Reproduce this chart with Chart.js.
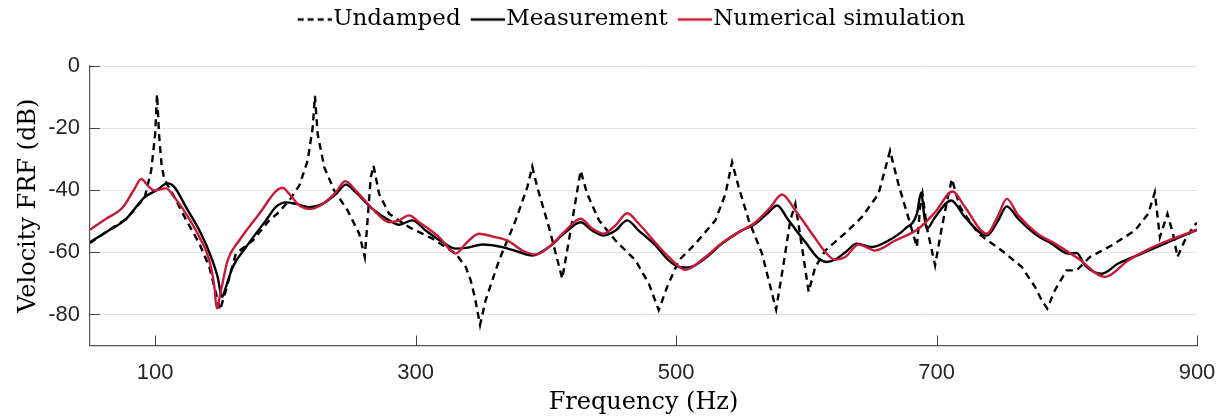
<!DOCTYPE html>
<html>
<head>
<meta charset="utf-8">
<script src="https://cdn.jsdelivr.net/npm/chart.js@4.4.1/dist/chart.umd.min.js"></script>
<style>
  html, body { margin: 0; padding: 0; background: #fff; }
  #wrap { width: 1231px; height: 419px; }
</style>
</head>
<body>
<div id="wrap"><canvas id="grafikas" width="1231" height="419"></canvas></div>
<script>
// duomenys nuskaityti nuo paveikslo (Hz, dB)
var xTicks = [100, 300, 500, 700, 900];
var yTicks = [-80, -60, -40, -20, 0];

var undampedHz = [50, 62, 78, 92, 97, 100, 101.5, 103, 105, 107, 113.5, 124, 134, 141.6, 146.8, 149.8, 154.4, 162, 175, 187.6, 194,
    203, 210.7, 217.1, 221, 222.7, 224.8, 229.9, 237.5, 247.8, 256.7, 261, 263.1, 265.6, 267.7, 272, 279.7, 295, 313, 330.8,
    338.5, 342.3, 345.5, 349.5, 353.8, 364.1, 376.8, 385.8, 389.6, 393.4, 402.4, 412.6, 417.7, 422.9, 426.7, 431.8, 440.8,
    453.5, 468.9, 479.1, 486.7, 493.2, 502.1, 514.9, 530.2, 537.9, 543, 548.1, 555.8, 566, 572.4, 576.8, 582.6, 587.7, 591.6,
    596.7, 601.8, 606.9, 614.6, 629.9, 642.6, 655.4, 664.3, 670.7, 678.3, 684.9, 687.4, 689.2, 692.5, 698.9, 704.1, 709.2,
    711.8, 718.1, 732.2, 750, 765.4, 775.6, 780.7, 785, 790.9, 799.9, 807.6, 817.8, 834.4, 852.3, 862.5, 867.6, 871.5, 877.3,
    881.6, 885, 890.6, 897.8, 900];
var undampedDb = [-57, -53.5, -49.2, -42.3, -33.7, -22, -9.1, -22, -32, -36.4, -41.2, -49.7, -57.2, -64.7, -73.3, -78.6, -72.2, -60.4, -56.2, -49.7, -47.5,
    -43.3, -38.5, -30.5, -19.8, -9.6, -21.9, -32.6, -40.1, -46.5, -54, -61.5, -49.7, -35.8, -32.1, -41.2, -47.6, -51.9, -55.6, -60.4,
    -64.7, -69, -74.5, -83.4, -75.4, -62.6, -49.7, -39, -32.4, -39, -51.9, -68.5, -56.2, -43.3, -33.7, -41.2, -49.7,
    -56.2, -62.6, -70.1, -78.6, -71.1, -62.6, -57.2, -49.7, -41.2, -31, -39, -49.7, -60.4, -71.1, -78.4, -63.6, -49.7, -44.4,
    -58.3, -72.7, -64.7, -59.4, -53.8, -48.7, -41.2, -27.3, -38, -48.7, -58.3, -45.5, -41.2, -51.9, -64.2, -51.9, -41.2,
    -36.4, -45.5, -54, -59.4, -64.7, -71.1, -75.4, -78.1, -72.2, -65.8, -65.8, -61.5, -57.8, -53, -47.6, -40.7, -55.1, -47.6,
    -54, -61.5, -56.2, -51.3, -50.5];

var measuredHz = [50, 62.4, 77.8, 91.8, 100.8, 109.7, 114.8, 123.8, 135.3, 143, 148, 151.4, 154.4, 159.6, 169.8, 185.1, 193, 200.5,
    208.1, 218.3, 228.6, 238.8, 246.5, 254.1, 266.9, 279.7, 287.3, 297.6, 307.8, 320.6, 330.8, 340, 351.3, 366.6, 379.4, 389.6,
    402.4, 415.2, 426.7, 435.7, 444.6, 453.5, 462.5, 471.4, 484.2, 494.4, 502.1, 509.7, 522.5, 535.3, 548.1, 560.9, 571.1, 577.5,
    586.4, 599.2, 609.4, 615.9, 623.5, 630, 638.9, 650.4, 663.1, 675.9, 684.9, 688.2, 690.7, 692.5, 698.9, 711.2, 721.9, 738.5,
    747.4, 753.9, 762.8, 777, 788.4, 801.2, 807.6, 814, 826.7, 839.5, 857.4, 877.8, 900];
var measuredDb = [-56.7, -53.5, -49.2, -42.3, -40.1, -37.8, -39, -45.5, -54, -61.5, -67.9, -74.4, -71.1, -64.7, -58.3, -49.7, -45.3, -43.9,
    -44.4, -45.5, -44.4, -41.2, -38.2, -40.7, -46, -49.7, -51.1, -49.7, -53, -56.7, -58.8, -58.5, -57.5, -58.3, -59.9, -61,
    -58.3, -53.5, -50.3, -53, -54.6, -53, -49.7, -53, -57.8, -62.6, -64.7, -64.9, -61.8, -57.2, -53.5, -50.8, -47.1, -44.9,
    -49.7, -56.7, -62, -63.1, -62, -60, -57.2, -58.3, -56.2, -52.4, -47.6, -40.7, -48.7, -52.4, -48.7, -43.3, -48.7, -54.6,
    -49.7, -45.2, -49.2, -54.5, -57.2, -60.4, -60.2, -64.2, -66.9, -63.6, -60.4, -56.7, -52.8];

var simHz = [50, 62.4, 75.2, 84.1, 89.3, 94.4, 99.5, 108.4, 114.8, 123.8, 134, 141.6, 145.5, 147.3, 150.6, 155.7, 164.6, 180, 192.8, 197.9,
    203, 210.7, 219.6, 228.6, 238.8, 245.9, 254.1, 266.9, 279.7, 287.3, 295, 302.7, 318, 330.8, 338.5, 348.7, 359, 370.5, 382,
    392.2, 402.4, 415.2, 426.7, 435.7, 444.6, 453.5, 462.5, 471.4, 484.2, 494.4, 507.2, 522.5, 535.3, 548.1, 560.9, 572.4, 581.3,
    591.6, 604.4, 614.6, 622.2, 629.9, 640.1, 652.9, 668.2, 686.1, 698.9, 712.4, 721.9, 738.5, 747.4, 753.9, 762.8, 777, 790.9,
    808.8, 829.3, 847.2, 865.2, 900];
var simDb = [-52.7, -49.2, -45.5, -39.6, -36.4, -38.5, -40.1, -39.4, -42.3, -47.6, -55.1, -62.6, -71.1, -78.1, -72.2, -62.6, -56.2, -47.6, -40.3, -39.2,
    -41.2, -44.9, -46, -44.4, -40.7, -37.1, -40.1, -46, -50.3, -49.7, -48.1, -50.3, -55.1, -60.4, -57.2, -54, -54.9, -56.2, -59.4,
    -60.7, -58.3, -53, -49.2, -52.4, -54, -51.3, -47.4, -50.8, -56.9, -61.5, -65.6, -61.5, -57, -53.5, -50.3, -45.5, -41.4,
    -46.5, -54, -59.9, -62.4, -61.5, -57.5, -59.4, -56.2, -52.4, -47.1, -40.4, -45.5, -54, -48.1, -42.8, -48.1, -53.8, -57.2,
    -62, -67.9, -62.6, -58.5, -52.7];

function taskai(xs, ys) {
    return xs.map((x, i) => ({x: x, y: ys[i]}));
}

// legendos linijos (punktyras turi matytis), pastumtos arčiau teksto
function legendosLinija(spalva, bruksnys) {
    var c = document.createElement('canvas');
    c.width = 54;
    c.height = 6;
    var g = c.getContext('2d');
    g.strokeStyle = spalva;
    g.lineWidth = 2.4;
    g.setLineDash(bruksnys);
    g.beginPath();
    g.moveTo(20, 3);
    g.lineTo(54, 3);
    g.stroke();
    return c;
}

// vidines ašių žymos (kaip MATLAB)
const vidinesZymos = {
    id: 'vidinesZymos',
    beforeInit(chart) {
        const lg = chart.legend;
        const origFit = lg.fit;
        lg.fit = function() {
            origFit.call(this);
            this.height += 31;
        };
        const origDraw = lg.draw;
        lg.draw = function(area) {
            this.ctx.save();
            this.ctx.translate(28, 6);
            origDraw.call(this, area);
            this.ctx.restore();
        };
    },
    afterDraw(chart) {
        const ctx = chart.ctx;
        const a = chart.chartArea;
        const xs = chart.scales.x;
        const ys = chart.scales.y;
        ctx.save();
        ctx.strokeStyle = '#444';
        ctx.lineWidth = 1;
        ctx.beginPath();
        yTicks.forEach(v => {
            const py = Math.round(ys.getPixelForValue(v)) + 0.5;
            ctx.moveTo(a.left, py);
            ctx.lineTo(a.left + 10, py);
        });
        xTicks.forEach(v => {
            const px = Math.round(xs.getPixelForValue(v)) + 0.5;
            ctx.moveTo(px, a.bottom);
            ctx.lineTo(px, a.bottom - 10);
        });
        ctx.stroke();
        ctx.restore();
    }
};

var serif = "'DejaVu Serif', serif";
var sans = "'Liberation Sans', Arial, sans-serif";

var ctx = document.getElementById('grafikas').getContext('2d');
var frfChart = new Chart(ctx, {
    type: 'line',
    data: {
        datasets: [
            {
                label: 'Undamped',
                data: taskai(undampedHz, undampedDb),
                borderColor: '#000',
                borderWidth: 2.4,
                borderDash: [7, 5],
                pointRadius: 0,
                pointStyle: legendosLinija('#000', [6, 4]),
                tension: 0,
                order: 2
            },
            {
                label: 'Measurement',
                data: taskai(measuredHz, measuredDb),
                borderColor: '#000',
                borderWidth: 2.4,
                pointRadius: 0,
                pointStyle: legendosLinija('#000', []),
                cubicInterpolationMode: 'monotone',
                order: 1
            },
            {
                label: 'Numerical simulation',
                data: taskai(simHz, simDb),
                borderColor: '#c61a3a',
                borderWidth: 2.4,
                pointRadius: 0,
                pointStyle: legendosLinija('#c61a3a', []),
                cubicInterpolationMode: 'monotone',
                order: 0
            }
        ]
    },
    options: {
        responsive: false,
        animation: false,
        layout: { padding: { left: 0, right: 34, top: 2, bottom: 0 } },
        plugins: {
            tooltip: { enabled: false },
            legend: {
                position: 'top',
                labels: {
                    usePointStyle: true,
                    pointStyleWidth: 34,
                    padding: 0,
                    color: '#000',
                    font: { family: serif, size: 23 },
                    sort: (a, b) => a.datasetIndex - b.datasetIndex
                }
            }
        },
        scales: {
            x: {
                type: 'linear',
                min: 50,
                max: 900,
                afterBuildTicks: (s) => { s.ticks = xTicks.map(v => ({value: v})); },
                afterFit: (s) => { s.height = 73.5; },
                grid: { display: false, drawTicks: false },
                border: { display: true, color: '#555', width: 1.2 },
                ticks: { color: '#262626', padding: 14, font: { family: sans, size: 22 } },
                title: {
                    display: true,
                    text: 'Frequency (Hz)',
                    color: '#000',
                    font: { family: serif, size: 24 },
                    padding: { top: 0, bottom: 2 }
                }
            },
            y: {
                min: -90,
                max: 0,
                afterBuildTicks: (s) => { s.ticks = yTicks.map(v => ({value: v})); },
                afterFit: (s) => { s.width = 90; },
                grid: { color: '#e3e3e3', lineWidth: 1, drawTicks: false },
                border: { display: true, color: '#555', width: 1.2 },
                ticks: { color: '#262626', padding: 10, font: { family: sans, size: 22 } },
                title: {
                    display: true,
                    text: 'Velocity FRF (dB)',
                    color: '#000',
                    font: { family: serif, size: 24 },
                    padding: { top: 14, bottom: 0 }
                }
            }
        }
    },
    plugins: [vidinesZymos]
});
</script>
</body>
</html>
